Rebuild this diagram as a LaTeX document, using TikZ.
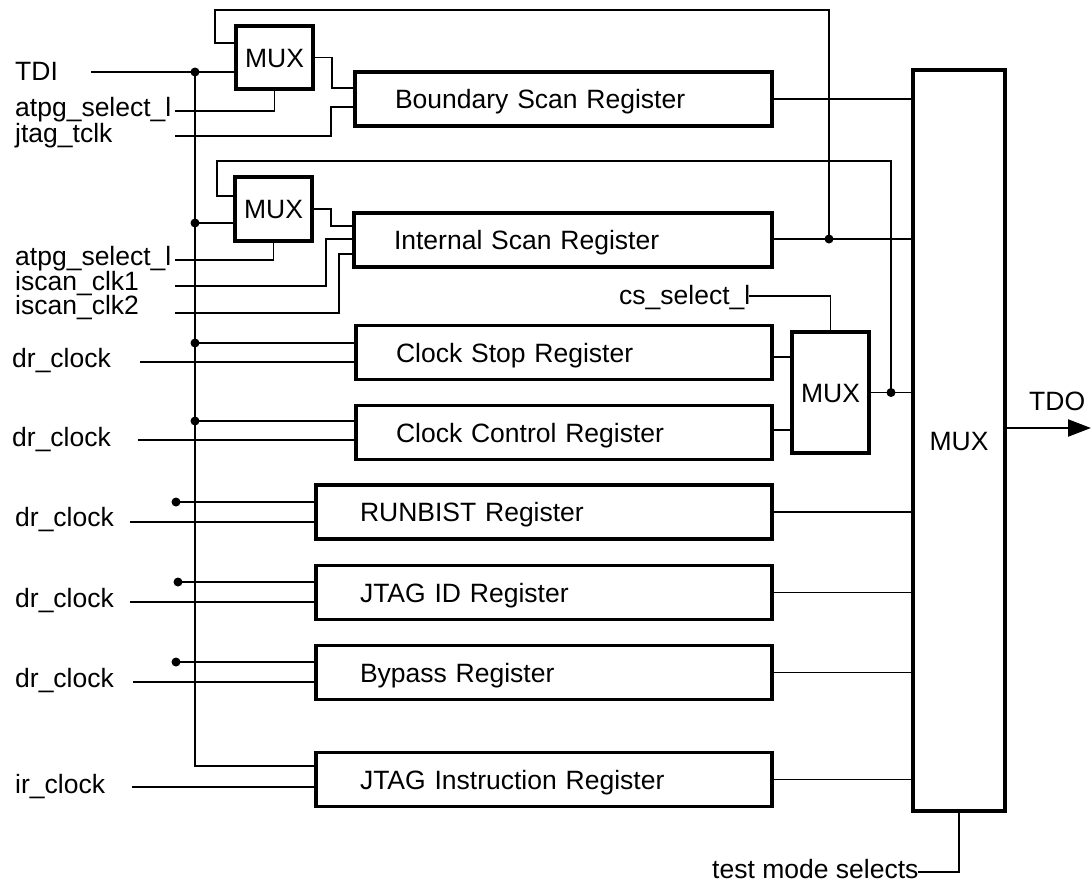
\documentclass[tikz,border=0pt]{standalone}
\usepackage{fontspec}
\setmainfont{Liberation Sans}
\usetikzlibrary{arrows.meta}
\begin{document}
\begin{tikzpicture}[x=1pt,y=-1pt,
  every node/.style={font=\fontsize{26.5}{30}\selectfont},
  box/.style={draw, line width=3.2pt, rectangle, inner sep=0pt, text height=19pt, text depth=0pt, align=center},
  regA/.style={draw, line width=3.2pt, rectangle, inner ysep=0pt, inner xsep=40pt, text width=#1, minimum height=54pt, text height=19pt, text depth=0pt, align=left},
  regB/.style={draw, line width=3.2pt, rectangle, inner ysep=0pt, inner xsep=44pt, text width=#1, minimum height=54pt, text height=19pt, text depth=0pt, align=left},
  wire/.style={line width=1.2pt},
  lbl/.style={anchor=base west, inner sep=0pt}]
\useasboundingbox (0,0) rectangle (1091,884);

% multiplexers
\node[box, minimum width=77pt, minimum height=63pt] (mux1) at (274.5,57.5) {MUX};
\node[box, minimum width=77pt, minimum height=64pt] (mux2) at (273.5,209) {MUX};
\node[box, minimum width=77pt, minimum height=121pt] (mux3) at (830.5,392.5) {MUX};
\node[box, minimum width=92pt, minimum height=741pt] (bmux) at (959,440.5) {MUX};

% registers
\node[regA=337pt] (bsr) at (563.5,99) {Boundary Scan Register};
\node[regA=338pt] (isr) at (563,240) {Internal Scan Register};
\node[regA=336pt] (csr) at (564,352.5) {Clock Stop Register};
\node[regA=336pt] (ccr) at (564,432.5) {Clock Control Register};
\node[regB=368pt] (rb) at (544,512) {RUNBIST Register};
\node[regB=368pt] (jid) at (544,592.5) {JTAG ID Register};
\node[regB=368pt] (byp) at (544,672.5) {Bypass Register};
\node[regB=368pt] (jir) at (544,779.5) {JTAG Instruction Register};

% labels
\node[lbl] (tdi) at (15,80) {TDI};
\node[lbl] (atpg1) at (15,116) {atpg\_select\_l};
\node[lbl] (jtclk) at (15,142) {jtag\_tclk};
\node[lbl] (atpg2) at (15,265) {atpg\_select\_l};
\node[lbl] (isc1) at (15,290) {iscan\_clk1};
\node[lbl] (isc2) at (15,314) {iscan\_clk2};
\node[lbl] (dr1) at (12,367) {dr\_clock};
\node[lbl] (dr2) at (12,446) {dr\_clock};
\node[lbl] (dr3) at (15,526) {dr\_clock};
\node[lbl] (dr4) at (15,607) {dr\_clock};
\node[lbl] (dr5) at (15,687) {dr\_clock};
\node[lbl] (irc) at (15,793) {ir\_clock};
\node[lbl] (css) at (619,304) {cs\_select\_l};
\node[lbl] (tms) at (712,878) {test mode selects};
\node[lbl] (tdo) at (1029,410) {TDO};

\begin{scope}[wire]
% top section
\draw (829,239) -- (829,10) -- (215,10) -- (215,43) -- (mux1.west |- 0,43);
\draw (91,72) -- (mux1.west |- 0,72);
\draw (195,72) -- (195,766) -- (jir.west |- 0,766);
\draw (175,111) -| (mux1.south);
\draw (mux1.east) -| (332,88) -- (bsr.west |- 0,88);
\draw (175,136) -| (331,107) -- (bsr.west |- 0,107);
\draw (bsr.east) -- (bmux.west |- bsr.east);
% internal scan section
\draw (891,392.5) -- (891,161) -- (217,161) -- (217,196) -- (mux2.west |- 0,196);
\draw (195,223) -- (mux2.west |- 0,223);
\draw (175,260) -| (mux2.south);
\draw (mux2.east) -| (331,226) -- (isr.west |- 0,226);
\draw (175,286) -| (326,239) -- (isr.west |- 0,239);
\draw (175,313) -| (339,254) -- (isr.west |- 0,254);
\draw (isr.east |- 0,239) -- (bmux.west |- 0,239);
% clock registers and mux
\draw (749,296) -| (mux3.north);
\draw (csr.east |- 0,357) -- (mux3.west |- 0,357);
\draw (ccr.east |- 0,430) -- (mux3.west |- 0,430);
\draw (mux3.east) -- (bmux.west |- mux3.east);
\draw (195,343) -- (csr.west |- 0,343);
\draw (140,362) -- (csr.west |- 0,362);
\draw (195,421) -- (ccr.west |- 0,421);
\draw (138,440) -- (ccr.west |- 0,440);
% lower registers
\draw (176,502) -- (rb.west |- 0,502);
\draw (130,522) -- (rb.west |- 0,522);
\draw (178,582) -- (jid.west |- 0,582);
\draw (130,602) -- (jid.west |- 0,602);
\draw (176,662) -- (byp.west |- 0,662);
\draw (133,682) -- (byp.west |- 0,682);
\draw (132,787) -- (jir.west |- 0,787);
\draw (rb.east) -- (bmux.west |- rb.east);
\draw (jid.east) -- (bmux.west |- jid.east);
\draw (byp.east) -- (bmux.west |- byp.east);
\draw (jir.east) -- (bmux.west |- jir.east);
% test mode selects
\draw (bmux.south) |- (918,872);
\end{scope}

% output
\draw[line width=2.2pt, -{Triangle[length=23pt,width=17pt]}] (bmux.east |- 0,428) -- (1091,428);

% junction dots
\foreach \p in {(195,72),(195,223),(829,239),(891,392.5),(195,343),(195,421),(176,502),(178,582),(176,662)}
  \fill \p circle (4.5pt);
\end{tikzpicture}
\end{document}
